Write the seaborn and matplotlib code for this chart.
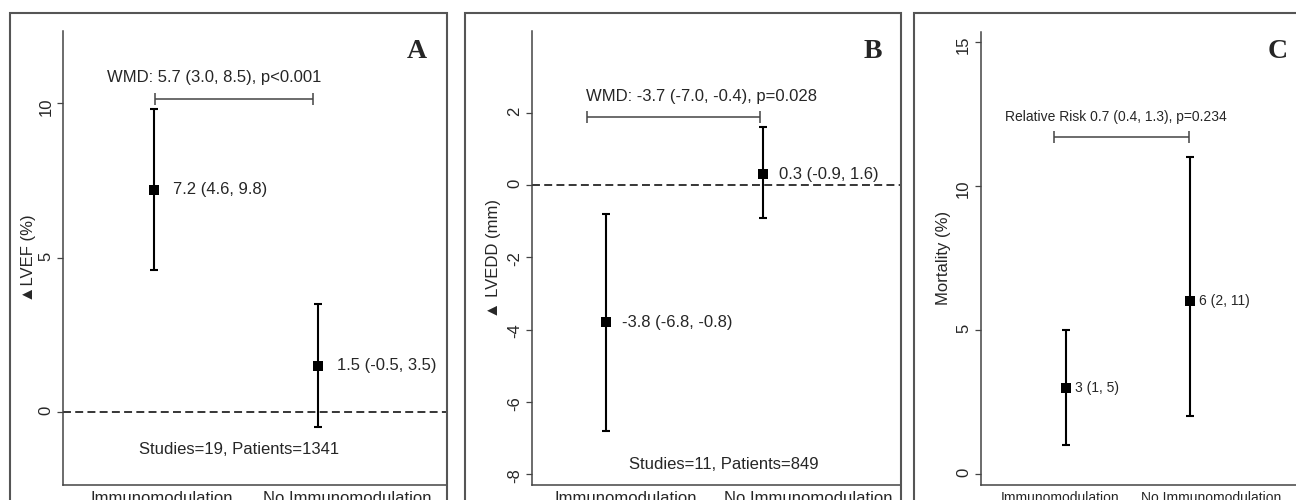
import numpy as np
import pandas as pd
import matplotlib
matplotlib.use("Agg")
import matplotlib.pyplot as plt
from matplotlib.patches import Rectangle
import seaborn as sns

# Data
groups = ["Immunomodulation", "No Immunomodulation"]

lvef_est = [7.2, 1.5]
lvef_lo = [4.6, -0.5]
lvef_hi = [9.8, 3.5]
lvef_labels = ["7.2 (4.6, 9.8)", "1.5 (-0.5, 3.5)"]

lvedd_est = [-3.8, 0.3]
lvedd_lo = [-6.8, -0.9]
lvedd_hi = [-0.8, 1.6]
lvedd_labels = ["-3.8 (-6.8, -0.8)", "0.3 (-0.9, 1.6)"]

mort_est = [3, 6]
mort_lo = [1, 2]
mort_hi = [5, 11]
mort_labels = ["3 (1, 5)", "6 (2, 11)"]

sns.set_style("white")
plt.rcParams['font.family'] = ['Liberation Sans', 'DejaVu Sans']

W, H = 1296, 500
fig = plt.figure(figsize=(W / 100, H / 100), dpi=100)


def px_axes(left, right, top, bottom):
    return fig.add_axes([left / W, 1 - bottom / H, (right - left) / W, (bottom - top) / H])


def draw_panel(ax, est, lo, hi, labels, fs, label_off):
    df = pd.DataFrame({"x": [1, 2], "est": est, "lo": lo, "hi": hi})
    ax.errorbar(df["x"], df["est"], yerr=[df["est"] - df["lo"], df["hi"] - df["est"]],
                fmt='none', ecolor='black', elinewidth=1.5, capsize=3.2, capthick=1.5, zorder=3)
    sns.scatterplot(data=df, x="x", y="est", marker='s', s=55, color='black',
                    linewidth=0, legend=False, ax=ax, zorder=4)
    for xi, yi, lab in zip(df["x"], df["est"], labels):
        ax.annotate(lab, (xi, yi), xytext=(label_off, 0), textcoords='offset points',
                    ha='left', va='center', fontsize=fs)
    ax.set_xlabel("")
    for side in ["top", "right"]:
        ax.spines[side].set_visible(False)
    for side in ["left", "bottom"]:
        ax.spines[side].set_color('#444444')
        ax.spines[side].set_linewidth(1.1)
    ax.tick_params(axis='x', length=0, pad=4)
    ax.tick_params(axis='y', length=4, width=0.9, color='#444444', pad=3, left=True)


def bracket(ax, x0, x1, y, text, ty, tx, fs):
    ax.errorbar([(x0 + x1) / 2], [y], xerr=[(x1 - x0) / 2], fmt='none', ecolor='#444444',
                elinewidth=1.1, capsize=4, capthick=1.1)
    ax.text(tx, ty, text, ha='center', va='center', fontsize=fs)


# Panel A
axA = px_axes(63, 447, 31, 485)
draw_panel(axA, lvef_est, lvef_lo, lvef_hi, lvef_labels, 12, 13.5)
axA.axhline(0, color='black', lw=1.1, ls=(0, (5.2, 2.8)), zorder=1)
axA.set_xlim(0.445, 2.787)
axA.set_ylim(-2.37, 12.34)
axA.set_yticks([0, 5, 10])
axA.set_xticks([1.049, 2.177])
axA.set_xticklabels(groups, fontsize=12)
axA.set_yticklabels(["0", "5", "10"], fontsize=12, rotation=90)
axA.set_ylabel("▲LVEF (%)", fontsize=12, va='center')
axA.yaxis.set_label_coords(-0.091, 0.5)
bracket(axA, 1.006, 1.97, 10.14, "WMD: 5.7 (3.0, 8.5), p<0.001", 10.82, 1.37, 12)
axA.text(1.52, -1.21, "Studies=19, Patients=1341", ha='center', va='center', fontsize=12)

# Panel B
axB = px_axes(531.7, 900, 31, 485)
draw_panel(axB, lvedd_est, lvedd_lo, lvedd_hi, lvedd_labels, 12, 11.5)
axB.axhline(0, color='black', lw=1.1, ls=(0, (5.2, 2.8)), zorder=1)
axB.set_xlim(0.53, 2.867)
axB.set_ylim(-8.30, 4.27)
axB.set_yticks([-8, -6, -4, -2, 0, 2])
axB.set_xticks([1.124, 2.284])
axB.set_xticklabels(groups, fontsize=12)
axB.set_yticklabels(["-8", "-6", "-4", "-2", "0", "2"], fontsize=12, rotation=90)
axB.set_ylabel("▲ LVEDD (mm)", fontsize=12, va='center')
axB.yaxis.set_label_coords(-0.105, 0.5)
bracket(axB, 0.88, 1.98, 1.89, "WMD: -3.7 (-7.0, -0.4), p=0.028", 2.45, 1.605, 12)
axB.text(1.75, -7.72, "Studies=11, Patients=849", ha='center', va='center', fontsize=12)

# Panel C
axC = px_axes(980.7, 1300, 31.7, 485)
draw_panel(axC, mort_est, mort_lo, mort_hi, mort_labels, 10, 6.5)
axC.set_xlim(0.312, 2.887)
axC.set_ylim(-0.38, 15.35)
axC.set_yticks([0, 5, 10, 15])
axC.set_xticks([0.948, 2.169])
axC.set_xticklabels(groups, fontsize=10)
axC.set_yticklabels(["0", "5", "10", "15"], fontsize=12, rotation=90)
axC.set_ylabel("Mortality (%)", fontsize=12, va='center')
axC.yaxis.set_label_coords(-0.118, 0.5)
bracket(axC, 0.90, 1.99, 11.69, "Relative Risk 0.7 (0.4, 1.3), p=0.234", 12.39, 1.40, 10)

# Panel frames and letters
for x0, x1 in [(10, 447), (465, 901), (914, 1310)]:
    fig.add_artist(Rectangle((x0 / W, -0.1), (x1 - x0) / W, 1.1 - 13 / H,
                             transform=fig.transFigure, fill=False,
                             edgecolor='#555555', lw=1.5))
for letter, xl in [("A", 417), ("B", 873), ("C", 1278)]:
    fig.text(xl / W, 1 - 52 / H, letter, ha='center', va='center', fontsize=20,
             fontweight='bold', family='Liberation Serif')

fig.savefig("out.png", dpi=100)
